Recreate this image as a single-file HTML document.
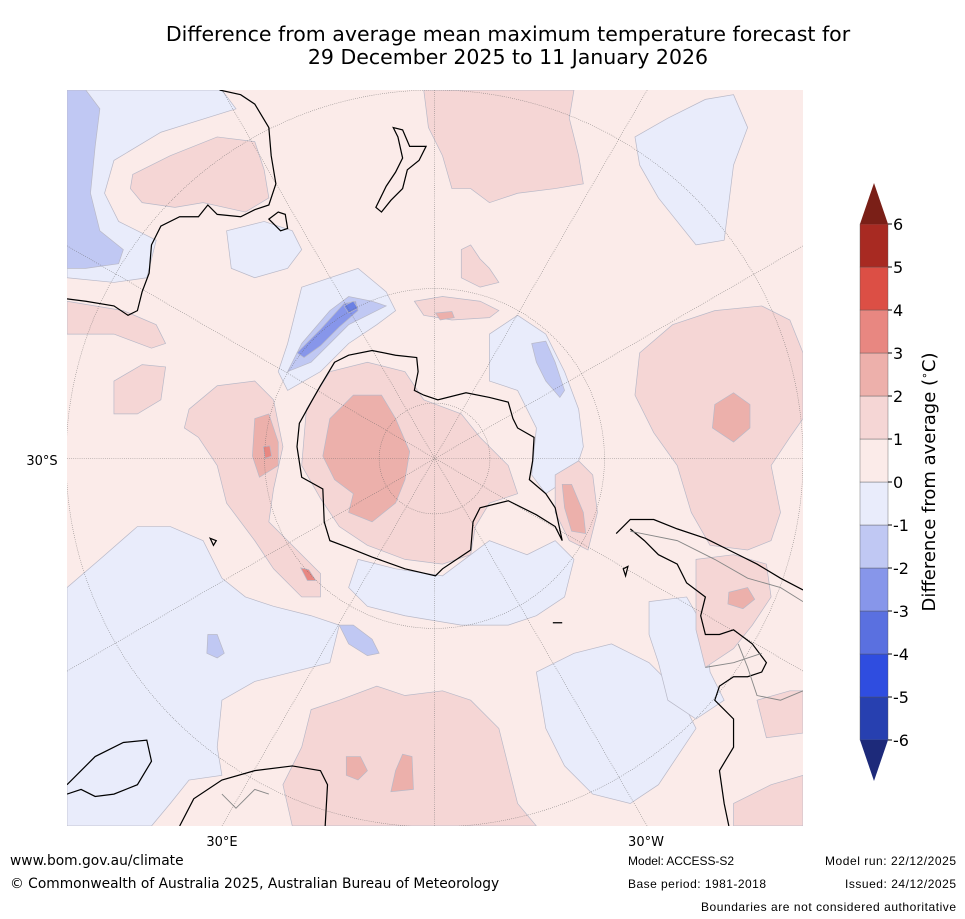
<!DOCTYPE html>
<html><head><meta charset="utf-8"><style>
body{margin:0;background:#fff;width:965px;height:919px;overflow:hidden;font-family:"DejaVu Sans","Liberation Sans",sans-serif}
svg{position:absolute;left:0;top:0}
.f{font-family:"Liberation Sans",sans-serif}
</style></head><body>
<svg width="965" height="919">
<text x="508" y="41" text-anchor="middle" font-size="20.5" fill="#000">Difference from average mean maximum temperature forecast for</text>
<text x="508" y="64" text-anchor="middle" font-size="20.5" fill="#000">29 December 2025 to 11 January 2026</text>
<defs><clipPath id="mc"><rect x="0" y="0" width="1568" height="1568"/></clipPath></defs>
<g transform="translate(67,90) scale(0.4694)" clip-path="url(#mc)">
<rect x="0" y="0" width="1568" height="1568" fill="#fbebe9"/>
<g stroke="#b9b9c8" stroke-width="1.5">
<path fill="#e9ecfb" d="M0,1060 L70,1000 150,930 220,930 290,960 330,1040 380,1080 440,1100 520,1120 580,1140 560,1220 480,1240 400,1260 330,1300 320,1400 330,1460 260,1470 220,1520 180,1568 0,1568Z"/>
<path fill="#e9ecfb" d="M620,1000 L700,1020 800,1035 860,990 900,960 980,990 1040,960 1080,1000 1060,1080 1000,1120 940,1140 840,1140 720,1120 640,1100 600,1060Z"/>
<path fill="#e9ecfb" d="M1000,1240 L1080,1200 1160,1180 1240,1220 1300,1280 1340,1360 1300,1420 1260,1480 1200,1520 1120,1500 1060,1440 1020,1360Z"/>
<path fill="#e9ecfb" d="M900,520 L960,480 1020,520 1060,600 1090,680 1100,760 1080,820 1020,860 990,820 1000,720 960,640 900,620Z"/>
<path fill="#e9ecfb" d="M1210,100 L1280,60 1360,20 1420,10 1450,80 1420,160 1410,240 1400,320 1340,330 1300,280 1260,230 1220,160Z"/>
<path fill="#e9ecfb" d="M0,0 L330,0 360,40 200,90 100,150 80,220 110,280 190,320 170,400 100,410 0,400Z"/>
<path fill="#e9ecfb" d="M340,300 L420,280 480,300 500,340 470,380 400,400 350,380Z"/>
<path fill="#e9ecfb" d="M500,420 L620,380 680,430 700,470 660,500 600,540 540,600 470,640 450,600 470,540Z"/>
<path fill="#e9ecfb" d="M1240,1090 L1320,1080 1360,1150 1370,1240 1400,1300 1340,1340 1280,1300 1260,1220 1240,1160Z"/>
<path fill="#c0c8f3" d="M0,0 L40,0 70,40 60,120 50,220 70,300 120,340 110,370 40,380 0,380Z"/>
<path fill="#c0c8f3" d="M470,600 L500,540 560,470 600,440 650,450 680,460 640,480 600,500 560,540 520,580Z"/>
<path fill="#c0c8f3" d="M990,540 L1020,535 1040,580 1060,640 1050,655 1020,620 1000,580Z"/>
<path fill="#c0c8f3" d="M580,1140 L610,1140 650,1170 665,1200 640,1205 600,1180Z"/>
<path fill="#c0c8f3" d="M300,1160 L320,1160 335,1200 320,1210 298,1200Z"/>
<path fill="#8796ea" d="M490,560 L540,510 590,455 615,450 620,470 580,505 540,545 505,570Z"/>
<path fill="#6a80e4" d="M590,460 L610,450 620,465 600,475Z"/>
<path fill="#f5d6d5" d="M510,680 L560,600 640,580 720,600 760,660 840,690 880,740 940,800 960,860 900,880 870,930 860,990 800,1010 720,1000 640,970 580,930 540,870 500,800Z"/>
<path fill="#f5d6d5" d="M760,0 L1080,0 1070,60 1090,140 1100,200 1040,210 960,220 900,240 860,210 820,210 800,140 770,80Z"/>
<path fill="#f5d6d5" d="M1220,560 L1290,500 1380,470 1480,460 1540,490 1568,560 1568,700 1540,740 1500,800 1520,900 1500,960 1450,980 1370,970 1330,900 1300,800 1250,730 1210,650Z"/>
<path fill="#f5d6d5" d="M520,1320 L580,1300 660,1270 720,1290 800,1280 860,1300 920,1360 940,1440 960,1520 1000,1568 480,1568 460,1480 500,1400Z"/>
<path fill="#f5d6d5" d="M260,680 L320,630 400,620 440,660 460,760 440,850 430,920 480,970 540,1030 540,1080 500,1080 440,1020 400,960 340,880 320,800 280,740 250,720Z"/>
<path fill="#f5d6d5" d="M140,180 L220,140 320,100 400,110 420,170 430,230 380,260 290,240 230,250 160,240 135,210Z"/>
<path fill="#f5d6d5" d="M100,620 L160,585 210,590 200,660 150,690 100,690Z"/>
<path fill="#f5d6d5" d="M0,450 L120,470 190,500 210,540 180,550 100,520 0,520Z"/>
<path fill="#f5d6d5" d="M1340,1000 L1420,990 1490,1010 1500,1080 1460,1140 1420,1190 1360,1230 1340,1150Z"/>
<path fill="#f5d6d5" d="M1470,1300 L1540,1280 1568,1280 1568,1370 1490,1380Z"/>
<path fill="#f5d6d5" d="M1420,1520 L1500,1480 1568,1460 1568,1568 1420,1568Z"/>
<path fill="#f5d6d5" d="M740,450 L800,440 880,450 920,470 900,485 820,490 760,480Z"/>
<path fill="#f5d6d5" d="M840,340 L860,330 880,360 900,380 920,410 880,420 840,400Z"/>
<path fill="#f5d6d5" d="M1040,820 L1090,790 1120,820 1130,900 1110,980 1070,960 1040,900Z"/>
<path fill="#ecb0ab" d="M560,700 L610,650 670,650 700,700 730,770 720,830 700,880 650,920 600,900 610,860 570,830 545,780Z"/>
<path fill="#ecb0ab" d="M1380,670 L1420,645 1455,670 1455,720 1420,750 1375,720Z"/>
<path fill="#ecb0ab" d="M400,700 L430,690 450,750 450,800 410,825 395,780Z"/>
<path fill="#ecb0ab" d="M1055,840 L1075,840 1100,900 1105,945 1075,940 1060,890Z"/>
<path fill="#ecb0ab" d="M1410,1070 L1450,1060 1465,1085 1440,1105 1408,1095Z"/>
<path fill="#ecb0ab" d="M595,1420 L625,1420 640,1450 620,1470 595,1460Z"/>
<path fill="#ecb0ab" d="M715,1415 L735,1420 738,1490 690,1495 700,1450Z"/>
<path fill="#ecb0ab" d="M785,475 L820,472 825,485 795,490Z"/>
<path fill="#e88781" d="M418,760 L432,758 436,780 422,785Z"/>
<path fill="#e88781" d="M498,1018 L515,1022 530,1045 512,1045Z"/>
</g>
<g fill="none" stroke="#666" stroke-width="1.2" stroke-dasharray="1.5,3">
<circle cx="783" cy="785" r="118"/><circle cx="783" cy="785" r="362"/><circle cx="783" cy="785" r="785"/>
<line x1="783" y1="0" x2="783" y2="1568"/><line x1="0" y1="785" x2="1568" y2="785"/>
<line x1="330" y1="0" x2="1236" y2="1568"/><line x1="1236" y1="0" x2="330" y2="1568"/>
<line x1="0" y1="332" x2="1568" y2="1238"/><line x1="0" y1="1238" x2="1568" y2="332"/>
</g>
<g fill="none" stroke="#000" stroke-width="2.6">
<path d="M570,580 L600,565 650,555 700,565 745,570 748,600 740,640 760,650 790,660 850,645 900,655 940,665 950,700 960,720 995,740 992,790 985,830 1020,860 1040,890 1055,960 1040,930 1000,905 940,875 880,890 865,920 860,980 800,1020 785,1035 720,1020 650,995 600,975 560,960 548,920 545,850 500,825 490,760 495,710 520,665 540,630Z"/>
<path d="M325,0 L370,10 400,30 430,80 435,140 445,200 430,245 400,255 370,270 320,265 300,245 280,270 240,270 200,290 180,330 175,390 160,430 150,470 130,480 100,460 40,450 0,445"/>
<path d="M430,275 L450,260 465,265 470,295 455,300Z"/>
<path d="M695,80 L715,85 730,120 765,120 750,150 725,170 715,210 690,235 670,260 658,250 680,205 700,175 715,145 705,100Z"/>
<path d="M1170,945 L1200,915 1250,915 1300,935 1360,955 1420,985 1470,1010 1520,1040 1568,1065 M1200,935 L1230,960 1260,990 1300,1010 1320,1050 1360,1080 1350,1120 1360,1160 1390,1160 1420,1150 1460,1180 1490,1220 1480,1240 1450,1250 1420,1250 1390,1270 1380,1300 1420,1340 1420,1400 1390,1450 1400,1520 1410,1568"/>
<path d="M0,1480 L60,1420 120,1390 170,1385 180,1430 150,1480 100,1500 60,1505 30,1490 0,1500"/>
<path d="M240,1568 L270,1510 330,1470 400,1450 480,1440 540,1450 555,1480 550,1568"/>
<path d="M305,955 L318,960 312,970Z M1185,1020 L1195,1015 1190,1035Z M1035,1135 L1055,1135"/>
</g>
<g fill="none" stroke="#888" stroke-width="2">
<path d="M1200,940 L1300,960 1380,1000 1450,1040 1520,1060 1568,1090 M1430,1180 L1450,1230 1470,1290 1520,1300 1568,1280 M1360,1230 L1420,1220 1480,1200 M330,1500 L360,1530 400,1490 430,1500"/>
</g>
</g>
<text x="42" y="465" text-anchor="middle" font-size="13">30°S</text>
<text x="222" y="846" text-anchor="middle" font-size="13">30°E</text>
<text x="646" y="846" text-anchor="middle" font-size="13">30°W</text>
<g id="cbar"></g>
<text transform="translate(935,482) rotate(-90)" text-anchor="middle" font-size="18">Difference from average (<tspan font-size="11" dy="-7">∘</tspan><tspan dy="7">C)</tspan></text>
<text x="10" y="865" font-size="13.8">www.bom.gov.au/climate</text>
<text x="10" y="888" font-size="13.8">© Commonwealth of Australia 2025, Australian Bureau of Meteorology</text>
<text class="f" x="628" y="865" font-size="12" textLength="106">Model: ACCESS-S2</text>
<text class="f" x="628" y="888" font-size="12" textLength="138">Base period: 1981-2018</text>
<text class="f" x="825" y="865" font-size="12" textLength="131">Model run: 22/12/2025</text>
<text class="f" x="845" y="888" font-size="12" textLength="111">Issued: 24/12/2025</text>
<text class="f" x="701" y="911" font-size="12" textLength="255">Boundaries are not considered authoritative</text>
</svg>
<script>
const levels=[-6,-5,-4,-3,-2,-1,0,1,2,3,4,5,6];
const levelColors=["#2740b0","#2f4de0","#5a70e0","#8796ea","#c0c8f3","#e9ecfb","#fbebe9","#f5d6d5","#edb0ab","#e88781","#dc4f45","#a82a22"];
const extendColors=["#1d2a7a","#7a1f17"];
const NS="http://www.w3.org/2000/svg";
const g=document.getElementById('cbar');
const x0=860,w=28,yTop=224,yBot=740;
const y=v=>yBot-(v-levels[0])/(levels[levels.length-1]-levels[0])*(yBot-yTop);
function mk(t,a){const e=document.createElementNS(NS,t);for(const k in a)e.setAttribute(k,a[k]);g.appendChild(e);return e;}
for(let i=0;i<levelColors.length;i++){
  const r=mk('rect',{x:x0,y:y(levels[i+1]),width:w,height:y(levels[i])-y(levels[i+1]),fill:levelColors[i],stroke:'#555','stroke-width':0.4});
  
  
}
const tl=mk('polygon',{points:`${x0},${yTop} ${x0+w/2},${yTop-41} ${x0+w},${yTop}`,fill:extendColors[1]});


const bl=mk('polygon',{points:`${x0},${yBot} ${x0+w/2},${yBot+41} ${x0+w},${yBot}`,fill:extendColors[0]});


levels.forEach(v=>{
  const tk=mk('line',{x1:x0+w,x2:x0+w+4,y1:y(v),y2:y(v),stroke:'#000'});
  
  
  const t=mk('text',{x:x0+w+5,y:y(v)+6,'font-size':16});
  t.textContent=v;
  
  
});
</script>
</body></html>
